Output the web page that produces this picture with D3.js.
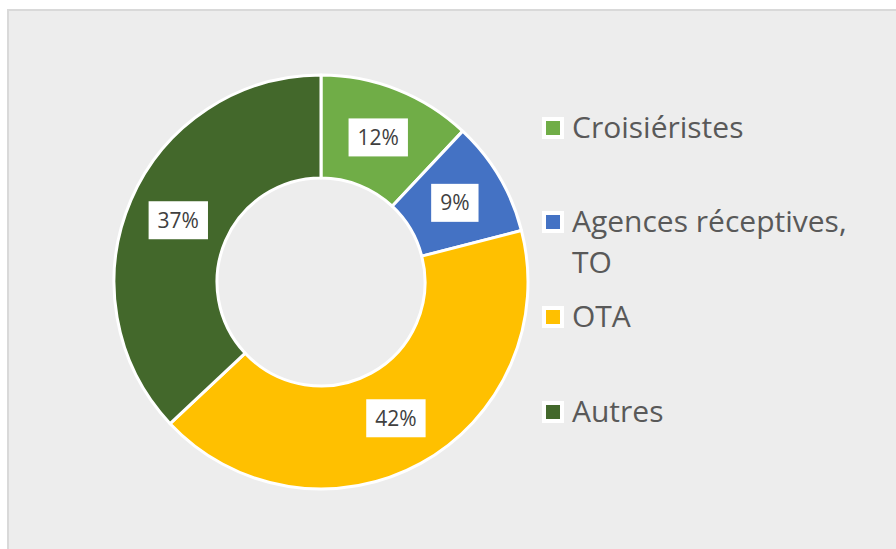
<!DOCTYPE html>
<html>
<head>
<meta charset="utf-8">
<script src="https://cdn.jsdelivr.net/npm/d3@7"></script>
<style>
  body { margin: 0; background: #ffffff; }
  svg { display: block; font-family: "Open Sans", sans-serif; }
</style>
</head>
<body>
<svg id="chart" width="896" height="549"></svg>
<script>
// data
var categories = ['Croisiéristes', 'Agences réceptives, TO', 'OTA', 'Autres'];
var legendLines = [['Croisiéristes'], ['Agences réceptives,', 'TO'], ['OTA'], ['Autres']];
var shares = [12, 9, 42, 37];
var colors = ['#70ad47', '#4472c4', '#ffc000', '#43682b'];

var width = 896, height = 549;
var cx = 321, cy = 282;
var outerR = 207, innerR = 104;

var svg = d3.select('#chart');

// chart area background + frame
svg.append('rect')
    .attr('x', 0).attr('y', 0)
    .attr('width', width).attr('height', height)
    .attr('fill', '#ffffff');
svg.append('rect')
    .attr('x', 8).attr('y', 10)
    .attr('width', width + 20).attr('height', height + 20)
    .attr('fill', '#ededed')
    .attr('stroke', '#d9d9d9')
    .attr('stroke-width', 2);

var pie = d3.pie().sort(null).value(d => d);
var arc = d3.arc().innerRadius(innerR).outerRadius(outerR);

var color = d3.scaleOrdinal().domain(categories).range(colors);

var donut = svg.append('g')
    .attr('transform', `translate(${cx}, ${cy})`);

var slices = pie(shares);

donut.selectAll('path')
    .data(slices)
    .enter()
    .append('path')
    .attr('d', arc)
    .attr('fill', (d, i) => color(categories[i]))
    .attr('stroke', '#ffffff')
    .attr('stroke-width', 3)
    .attr('stroke-linejoin', 'round');

// percentage labels in white boxes at the slice centroids
var labels = donut.selectAll('.label')
    .data(slices)
    .enter()
    .append('g')
    .attr('class', 'label')
    .attr('transform', d => `translate(${arc.centroid(d)})`);

labels.append('text')
    .attr('text-anchor', 'middle')
    .attr('dy', '0.36em')
    .style('font-size', '21px')
    .attr('fill', '#404040')
    .text(d => d.data + '%');

labels.each(function() {
    var g = d3.select(this);
    var bb = g.select('text').node().getBBox();
    g.insert('rect', 'text')
        .attr('x', bb.x - 9)
        .attr('y', -19)
        .attr('width', bb.width + 18)
        .attr('height', 38)
        .attr('fill', '#ffffff');
});

// legend
var legendY = [128, 222, 317, 412];
var legend = svg.selectAll('.legend')
    .data(categories)
    .enter()
    .append('g')
    .attr('class', 'legend')
    .attr('transform', (d, i) => `translate(542, ${legendY[i]})`);

legend.append('rect')
    .attr('x', 0).attr('y', -11)
    .attr('width', 22).attr('height', 22)
    .attr('fill', '#ffffff');
legend.append('rect')
    .attr('x', 4).attr('y', -7)
    .attr('width', 14).attr('height', 14)
    .attr('fill', d => color(d));

legend.append('text')
    .attr('x', 30)
    .attr('y', 10)
    .style('font-size', '30px')
    .attr('fill', '#595959')
    .selectAll('tspan')
    .data((d, i) => legendLines[i])
    .enter()
    .append('tspan')
    .attr('x', 30)
    .attr('dy', (d, i) => i === 0 ? 0 : 41)
    .text(d => d);
</script>
</body>
</html>
